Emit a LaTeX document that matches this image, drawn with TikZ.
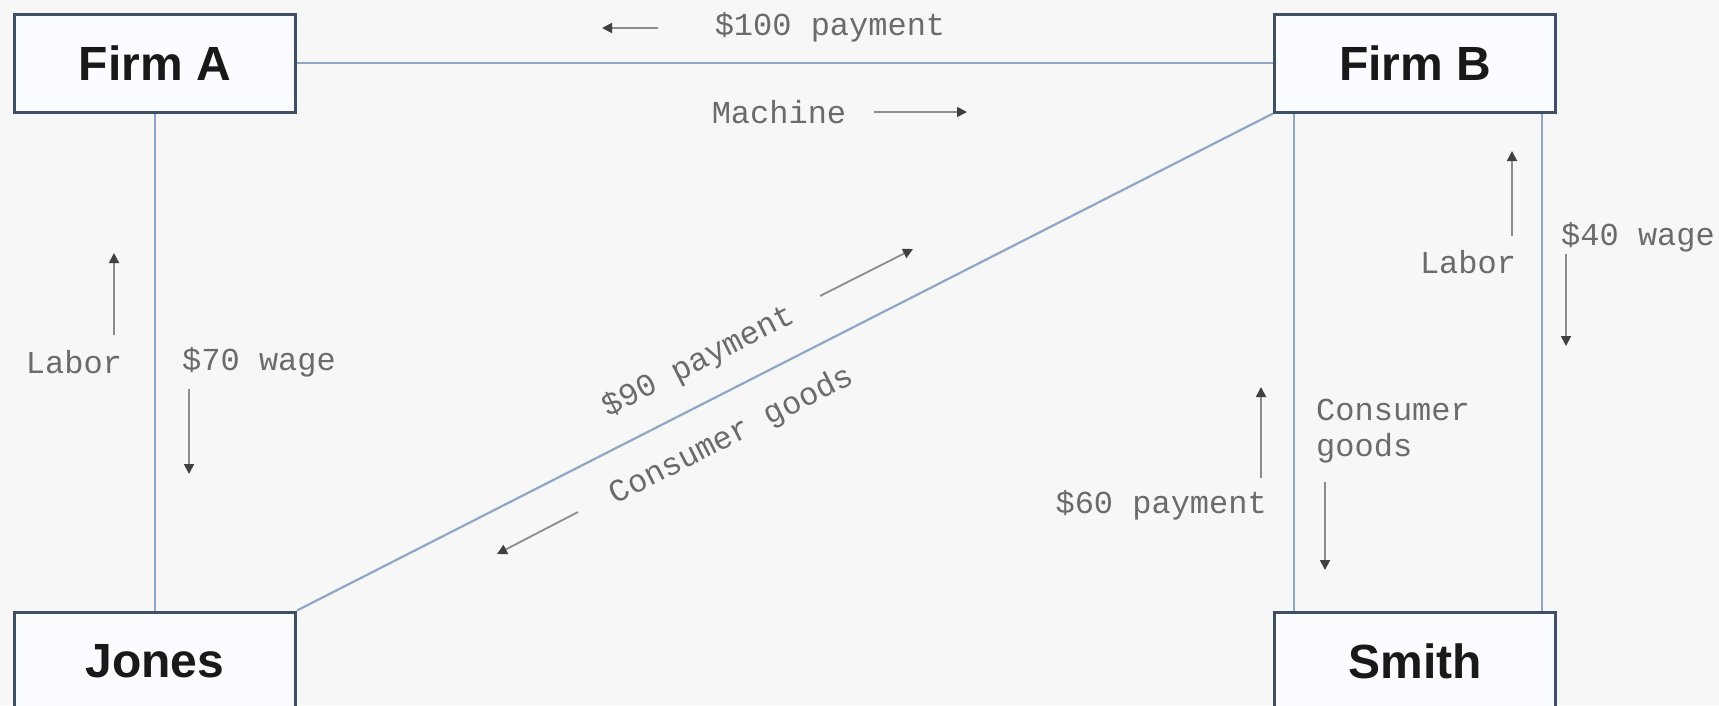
\documentclass[tikz,border=0pt]{standalone}
\usepackage{fontspec}
\setmainfont{Liberation Sans}
\newfontfamily\labelfont{Liberation Mono}
\usetikzlibrary{arrows.meta,calc,backgrounds}
\definecolor{bg}{HTML}{F7F7F7}
\definecolor{boxborder}{HTML}{3E4F66}
\definecolor{boxfill}{HTML}{FAFCFF}
\definecolor{linkc}{HTML}{8FA6C4}
\definecolor{lblc}{HTML}{6B6B6B}
\definecolor{arrc}{HTML}{8C8C8C}
\definecolor{headc}{HTML}{404040}
\begin{document}
\begin{tikzpicture}[x=1pt,y=-1pt,
  entity/.style={draw=boxborder, line width=3pt, fill=boxfill, minimum width=281pt, minimum height=98pt, font=\fontsize{48}{52}\selectfont\bfseries, text=black!90, inner sep=0pt},
  link/.style={draw=linkc, line width=2.2pt},
  lbl/.style={font=\labelfont\fontsize{32}{36}\selectfont, text=lblc, inner sep=0pt},
  flow/.style={draw=arrc, line width=1.8pt, -{Triangle[length=10pt,width=10pt,color=headc]}}
]
\useasboundingbox (0,0) rectangle (1719,705);

\node[entity] (A) at (155,63) {Firm A};
\node[entity] (B) at (1415,63) {Firm B};
\node[entity] (J) at (155,661) {Jones};
\node[entity] (S) at (1415,661) {Smith};

\begin{scope}[on background layer]
\fill[bg] (0,0) rectangle (1719,705);
\draw[link] (A.east) -- (B.west);
\draw[link] (A.south) -- (J.north);
\draw[link] (J.north east) -- (B.south west);
\draw[link] ([xshift=21pt]B.south west) -- ([xshift=21pt]S.north west);
\draw[link] ([xshift=-15pt]B.south east) -- ([xshift=-15pt]S.north east);
\end{scope}

% top
\node[lbl] (pay100) at (830,27) {\$100 payment};
\coordinate (pay100s) at (658,28); \coordinate (pay100e) at (602,28);
\draw[flow] (pay100s) -- (pay100e);
\node[lbl] (mach) at (779,112) {Machine};
\coordinate (machs) at (874,112); \coordinate (mache) at (967,112);
\draw[flow] (machs) -- (mache);

% left
\node[lbl] (laborL) at (74,362) {Labor};
\coordinate (laborLs) at (114,335); \coordinate (laborLe) at (114,253);
\draw[flow] (laborLs) -- (laborLe);
\node[lbl, anchor=west] (wage70) at (182,362) {\$70 wage};
\coordinate (wage70s) at (189,389); \coordinate (wage70e) at (189,474);
\draw[flow] (wage70s) -- (wage70e);

% right
\node[lbl] (laborR) at (1468,262) {Labor};
\coordinate (laborRs) at (1512,236); \coordinate (laborRe) at (1512,151);
\draw[flow] (laborRs) -- (laborRe);
\node[lbl, anchor=west] (wage40) at (1561,237) {\$40 wage};
\coordinate (wage40s) at (1566,254); \coordinate (wage40e) at (1566,346);
\draw[flow] (wage40s) -- (wage40e);
\node[lbl, anchor=east] (pay60) at (1267,505) {\$60 payment};
\coordinate (pay60s) at (1261,478); \coordinate (pay60e) at (1261,387);
\draw[flow] (pay60s) -- (pay60e);
\node[lbl, anchor=west, align=left] (cgR) at (1316,431) {Consumer\\goods};
\coordinate (cgRs) at (1325,482); \coordinate (cgRe) at (1325,570);
\draw[flow] (cgRs) -- (cgRe);

% diagonal
\node[lbl, rotate=27] (pay90) at (699,362) {\$90 payment};
\coordinate (pay90s) at (820,296); \coordinate (pay90e) at (913,249);
\draw[flow] (pay90s) -- (pay90e);
\node[lbl, rotate=27] (cgD) at (732,436) {Consumer goods};
\coordinate (cgDs) at (578,512); \coordinate (cgDe) at (497,554);
\draw[flow] (cgDs) -- (cgDe);
\end{tikzpicture}
\end{document}
